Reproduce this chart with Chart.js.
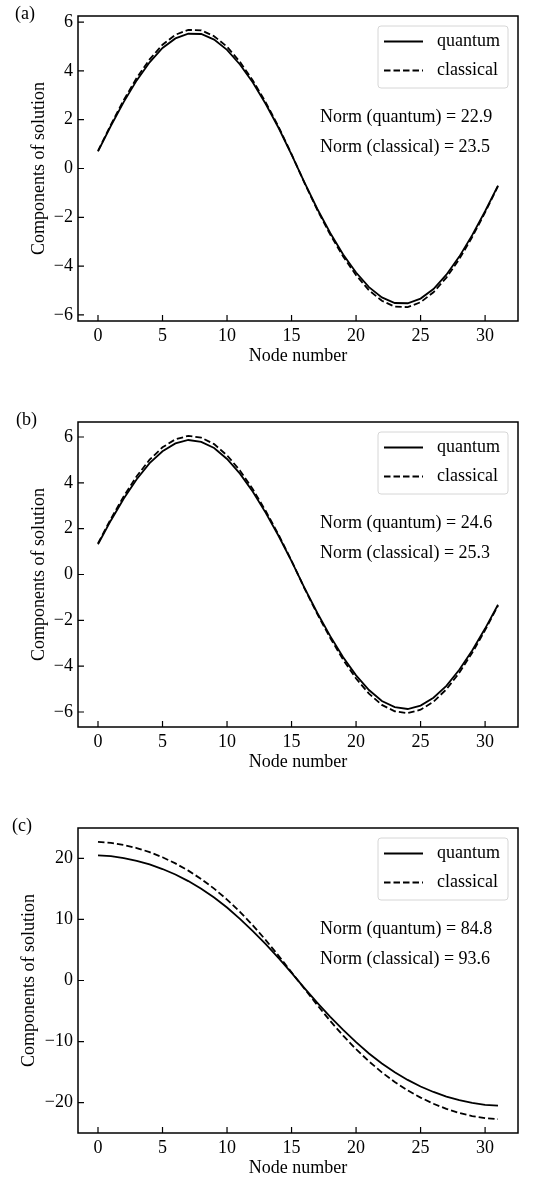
<!DOCTYPE html>
<html>
<head>
<meta charset="utf-8">
<script src="https://cdn.jsdelivr.net/npm/chart.js@4.4.0/dist/chart.umd.min.js"></script>
<style>
  html, body { margin: 0; padding: 0; background: #fff; }
  body { width: 557px; height: 1180px; position: relative; overflow: hidden; }
  .panel { position: absolute; left: 0; width: 557px; height: 369px; }
</style>
</head>
<body>
<div class="panel" style="top:0px"><canvas id="chartA" width="557" height="369"></canvas></div>
<div class="panel" style="top:406px"><canvas id="chartB" width="557" height="369"></canvas></div>
<div class="panel" style="top:812px"><canvas id="chartC" width="557" height="369"></canvas></div>
<script>
const nodes = [0, 1, 2, 3, 4, 5, 6, 7, 8, 9, 10, 11, 12, 13, 14, 15,
               16, 17, 18, 19, 20, 21, 22, 23, 24, 25, 26, 27, 28, 29, 30, 31];
const xTicks = [0, 5, 10, 15, 20, 25, 30];
const yTicksAB = [-6, -4, -2, 0, 2, 4, 6];
const yTicksC = [-20, -10, 0, 10, 20];

// (a)
const quantumA = [0.70, 1.75, 2.73, 3.61, 4.35, 4.94, 5.33, 5.52, 5.51, 5.28, 4.86, 4.26, 3.52, 2.64, 1.66, 0.57,
                  -0.57, -1.66, -2.64, -3.52, -4.26, -4.86, -5.28, -5.51, -5.52, -5.33, -4.94, -4.35, -3.61, -2.73, -1.75, -0.70];
const classicalA = [0.72, 1.80, 2.81, 3.71, 4.47, 5.07, 5.48, 5.68, 5.66, 5.42, 4.99, 4.37, 3.61, 2.71, 1.70, 0.59,
                    -0.59, -1.70, -2.71, -3.61, -4.37, -4.99, -5.42, -5.66, -5.68, -5.48, -5.07, -4.47, -3.71, -2.81, -1.80, -0.72];
const normsA = ['Norm (quantum) = 22.9', 'Norm (classical) = 23.5'];

// (b)
const quantumB = [1.32, 2.36, 3.32, 4.16, 4.86, 5.38, 5.72, 5.87, 5.79, 5.52, 5.04, 4.40, 3.61, 2.69, 1.68, 0.58,
                  -0.58, -1.68, -2.69, -3.61, -4.40, -5.04, -5.52, -5.79, -5.87, -5.72, -5.38, -4.86, -4.16, -3.32, -2.36, -1.32];
const classicalB = [1.36, 2.43, 3.42, 4.29, 5.01, 5.55, 5.90, 6.05, 5.97, 5.69, 5.20, 4.54, 3.72, 2.77, 1.73, 0.60,
                    -0.60, -1.73, -2.77, -3.72, -4.54, -5.20, -5.69, -5.97, -6.05, -5.90, -5.55, -5.01, -4.29, -3.42, -2.43, -1.36];
const normsB = ['Norm (quantum) = 24.6', 'Norm (classical) = 25.3'];

// (c)
const quantumC = [20.5, 20.35, 20.05, 19.6, 19.0, 18.25, 17.35, 16.28, 15.04, 13.6, 11.95, 10.1, 8.1, 5.95, 3.65, 1.25,
                  -1.25, -3.65, -5.95, -8.1, -10.1, -11.95, -13.6, -15.04, -16.28, -17.35, -18.25, -19.0, -19.6, -20.05, -20.35, -20.5];
const classicalC = [22.7, 22.54, 22.2, 21.69, 21.02, 20.18, 19.17, 17.99, 16.62, 15.04, 13.25, 11.25, 9.04, 6.62, 4.04, 1.35,
                    -1.35, -4.04, -6.62, -9.04, -11.25, -13.25, -15.04, -16.62, -17.99, -19.17, -20.18, -21.02, -21.69, -22.2, -22.54, -22.7];
const normsC = ['Norm (quantum) = 84.8', 'Norm (classical) = 93.6'];

const FONT = '"Liberation Serif", "Times New Roman", serif';
const SIZE = 18;

// matplotlib style 5% margins
function bounds(arrs) {
  const all = [].concat(...arrs);
  const lo = Math.min(...all), hi = Math.max(...all);
  const m = (hi - lo) * 0.05;
  return [lo - m, hi + m];
}

function fmt(v) {
  return v < 0 ? '\u2212' + Math.abs(v) : String(v);
}

const panelDecor = {
  id: 'panelDecor',
  afterDatasetsDraw(chart, args, opts) {
    const { ctx, chartArea: a, scales: { x, y } } = chart;
    ctx.save();

    // box around the axes
    ctx.strokeStyle = '#000';
    ctx.lineWidth = 1.5;
    ctx.strokeRect(a.left, a.top, a.right - a.left, a.bottom - a.top);

    // inward ticks
    ctx.lineWidth = 1.2;
    ctx.beginPath();
    x.ticks.forEach(t => {
      const px = x.getPixelForValue(t.value);
      ctx.moveTo(px, a.bottom);
      ctx.lineTo(px, a.bottom - 6);
    });
    y.ticks.forEach(t => {
      const py = y.getPixelForValue(t.value);
      ctx.moveTo(a.left, py);
      ctx.lineTo(a.left + 6, py);
    });
    ctx.stroke();

    ctx.font = SIZE + 'px ' + FONT;
    ctx.fillStyle = '#000';
    ctx.textBaseline = 'middle';
    ctx.textAlign = 'left';

    // legend
    const bw = 130, bh = 62;
    const bx = a.right - 10 - bw, by = a.top + 10;
    ctx.beginPath();
    ctx.roundRect(bx, by, bw, bh, 3);
    ctx.fillStyle = 'rgba(255,255,255,0.8)';
    ctx.fill();
    ctx.strokeStyle = '#d6d6d6';
    ctx.lineWidth = 1;
    ctx.stroke();
    chart.data.datasets.forEach((ds, i) => {
      const ly = by + 15.5 + i * 29;
      ctx.beginPath();
      ctx.strokeStyle = ds.borderColor;
      ctx.lineWidth = ds.borderWidth;
      ctx.setLineDash(ds.borderDash || []);
      ctx.moveTo(bx + 6, ly);
      ctx.lineTo(bx + 45, ly);
      ctx.stroke();
      ctx.setLineDash([]);
      ctx.fillStyle = '#000';
      ctx.fillText(ds.label, bx + 59, ly);
    });

    // norm annotations
    opts.norms.forEach((s, i) => ctx.fillText(s, 320, a.top + 101 + i * 30));

    // panel label
    ctx.fillText(opts.label, opts.labelX, a.top - 2);
    ctx.restore();
  }
};

function makePanel(id, quantum, classical, yTicks, norms, label, labelX, yTitlePad) {
  const [ymin, ymax] = bounds([quantum, classical]);
  const [xmin, xmax] = bounds([nodes]);
  const tickFont = { family: FONT, size: SIZE };
  new Chart(document.getElementById(id), {
    type: 'line',
    data: {
      datasets: [
        {
          label: 'quantum',
          data: nodes.map((n, i) => ({ x: n, y: quantum[i] })),
          borderColor: '#000',
          borderWidth: 1.8,
          pointRadius: 0,
          fill: false,
          tension: 0
        },
        {
          label: 'classical',
          data: nodes.map((n, i) => ({ x: n, y: classical[i] })),
          borderColor: '#000',
          borderWidth: 1.8,
          borderDash: [6.5, 3],
          pointRadius: 0,
          fill: false,
          tension: 0
        }
      ]
    },
    options: {
      responsive: false,
      animation: false,
      layout: { padding: { top: 16, right: 39, bottom: 0, left: 0 } },
      plugins: {
        legend: { display: false },
        tooltip: { enabled: false },
        panelDecor: { norms: norms, label: label, labelX: labelX }
      },
      scales: {
        x: {
          type: 'linear',
          min: xmin,
          max: xmax,
          afterBuildTicks: s => { s.ticks = xTicks.map(v => ({ value: v })); },
          afterFit: s => { s.height = 48; },
          grid: { display: false, drawTicks: false },
          border: { display: false },
          ticks: { padding: 4, color: '#000', font: tickFont, maxRotation: 0 },
          title: { display: true, text: 'Node number', color: '#000', font: tickFont, padding: { top: 0, bottom: 2 } }
        },
        y: {
          type: 'linear',
          min: ymin,
          max: ymax,
          afterBuildTicks: s => { s.ticks = yTicks.map(v => ({ value: v })); },
          afterFit: s => { s.width = 78; },
          grid: { display: false, drawTicks: false },
          border: { display: false },
          ticks: { padding: 5, color: '#000', font: tickFont, callback: v => fmt(v) },
          title: { display: true, text: 'Components of solution', color: '#000', font: tickFont, padding: { top: yTitlePad, bottom: 0 } }
        }
      }
    },
    plugins: [panelDecor]
  });
}

makePanel('chartA', quantumA, classicalA, yTicksAB, normsA, '(a)', 15, 28);
makePanel('chartB', quantumB, classicalB, yTicksAB, normsB, '(b)', 16, 28);
makePanel('chartC', quantumC, classicalC, yTicksC, normsC, '(c)', 12, 18.5);
</script>
</body>
</html>
